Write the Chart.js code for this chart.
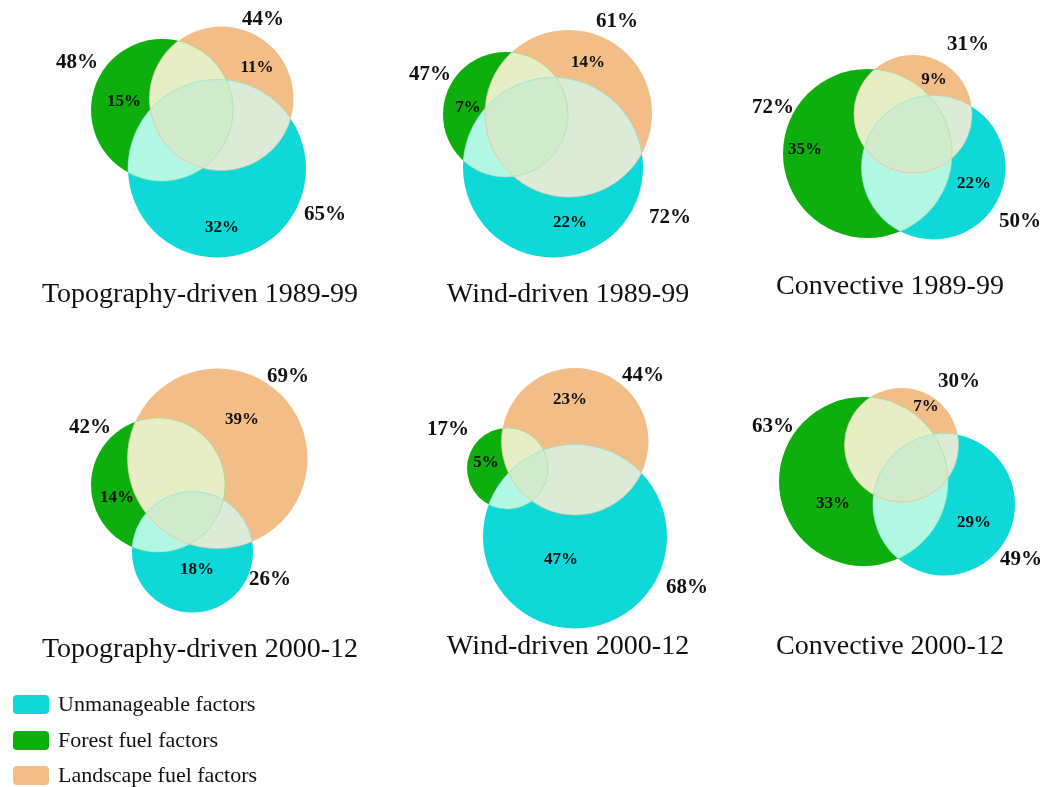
<!DOCTYPE html>
<html>
<head>
<meta charset="utf-8">
<script src="https://cdn.jsdelivr.net/npm/chart.js@4/dist/chart.umd.min.js"></script>
<style>
  html, body { margin: 0; padding: 0; background: #ffffff; }
  #wrap { position: relative; width: 1045px; height: 787px; overflow: hidden; }
  #c { position: absolute; left: 0; top: 0; }
  .title { position: absolute; transform: translate(-50%, -50%); white-space: nowrap;
           font-family: "Liberation Serif", "Times New Roman", serif; font-size: 28px; color: #111; }
  .leg { position: absolute; left: 13px; height: 19px; }
  .sw { position: absolute; left: 0; top: 0; width: 36px; height: 19px; border-radius: 4px; }
  .lt { position: absolute; left: 45px; top: 50%; transform: translateY(-50%); white-space: nowrap;
        font-family: "Liberation Serif", "Times New Roman", serif; font-size: 22px; color: #111; }
</style>
</head>
<body>
<div id="wrap">
  <canvas id="c" width="1045" height="787"></canvas>
</div>
<script>
// ---------------- data ----------------
const panelTitles = ["Topography-driven 1989-99", "Wind-driven 1989-99", "Convective 1989-99",
                     "Topography-driven 2000-12", "Wind-driven 2000-12", "Convective 2000-12"];
const seriesNames = ["Unmanageable factors", "Forest fuel factors", "Landscape fuel factors"];
const unmanageableTotal = [65, 72, 50, 26, 68, 49];
const forestTotal       = [48, 47, 72, 42, 17, 63];
const landscapeTotal    = [44, 61, 31, 69, 44, 30];
const unmanageableOnly  = [32, 22, 22, 18, 47, 29];
const forestOnly        = [15, 7, 35, 14, 5, 33];
const landscapeOnly     = [11, 14, 9, 39, 23, 7];

// ---------------- layout (positions / sizes, in scale units) ----------------
const unmanageableCircle = [[217,168.5,89],[553,167.5,90],[933.5,167.5,72],[192.5,552,60.5],[575,536.5,92],[944,504.5,71]];
const forestCircle       = [[162,110,71],[505.5,114.5,62.5],[867.5,153.5,84.5],[158,485,67],[507.5,468.5,40.5],[863.5,481.5,84.5]];
const landscapeCircle    = [[221.5,98.5,72],[568.5,113.5,83.5],[913,114,59],[217.5,458.5,90],[575,441.5,73.5],[901.5,445,57]];
const unmanageableTotalPos = [[325,215],[670,218],[1020,222],[270,580],[687,588],[1021,560]];
const forestTotalPos       = [[77,63],[430,75],[773,108],[90,428],[448,430],[773,427]];
const landscapeTotalPos    = [[263,20],[617,22],[968,45],[288,377],[643,376],[959,382]];
const unmanageableOnlyPos  = [[222,228],[570,223],[974,184],[197,570],[561,560],[974,523]];
const forestOnlyPos        = [[124,102],[468,108],[805,150],[117,498],[486,463],[833,504]];
const landscapeOnlyPos     = [[257,68],[588,63],[934,80],[242,420],[570,400],[926,407]];
const titlePos = [[200,293],[568,293],[890,285],[200,648],[568,645],[890,645]];
const legendRowY = [704, 740, 775];

// ---------------- styles ----------------
const seriesColors = ["#0fd8d8", "#0fae0f", "#f3bd88"];
const pairColors = { "0-1": "#b2f6e4", "0-2": "#dcebd8", "1-2": "#e7eec6" };
const tripleColor = "#cfebcb";
const edgeColors = ["rgba(150,235,215,0.6)", "rgba(175,230,170,0.6)", "rgba(235,200,165,0.7)"];

const FONT = '"Liberation Serif", "Times New Roman", serif';

function toPoints(circles) { return circles.map(c => ({ x: c[0], y: c[1], r: c[2] })); }

const overlapPlugin = {
  id: 'overlap',
  afterDatasetsDraw(chart) {
    const ctx = chart.ctx;
    const metas = [0, 1, 2].map(i => chart.getDatasetMeta(i));
    const circ = (el) => { ctx.beginPath(); ctx.arc(el.x, el.y, el.options.radius, 0, Math.PI * 2); };
    for (let p = 0; p < panelTitles.length; p++) {
      const els = metas.map(m => m.data[p]);
      [[0,1],[0,2],[1,2]].forEach(([a,b]) => {
        ctx.save();
        circ(els[a]); ctx.clip();
        circ(els[b]); ctx.fillStyle = pairColors[a + "-" + b]; ctx.fill();
        ctx.restore();
      });
      ctx.save();
      circ(els[0]); ctx.clip();
      circ(els[1]); ctx.clip();
      circ(els[2]); ctx.fillStyle = tripleColor; ctx.fill();
      ctx.restore();
      for (let k = 0; k < 3; k++) {
        for (let o = 0; o < 3; o++) {
          if (o === k) continue;
          ctx.save();
          circ(els[o]); ctx.clip();
          circ(els[k]); ctx.lineWidth = 1; ctx.strokeStyle = edgeColors[k]; ctx.stroke();
          ctx.restore();
        }
      }
    }
  },
  afterDraw(chart) {
    const ctx = chart.ctx;
    const xs = chart.scales.x, ys = chart.scales.y;
    ctx.save();
    ctx.fillStyle = "#111";
    ctx.textAlign = "center";
    ctx.textBaseline = "middle";
    const groups = [
      [unmanageableTotal, unmanageableTotalPos, 21], [forestTotal, forestTotalPos, 21], [landscapeTotal, landscapeTotalPos, 21],
      [unmanageableOnly, unmanageableOnlyPos, 17], [forestOnly, forestOnlyPos, 17], [landscapeOnly, landscapeOnlyPos, 17]
    ];
    groups.forEach(([vals, pos, size]) => {
      ctx.font = "bold " + size + "px " + FONT;
      vals.forEach((v, i) => {
        ctx.fillText(v + "%", xs.getPixelForValue(pos[i][0]), ys.getPixelForValue(pos[i][1]));
      });
    });
    ctx.restore();
  }
};

new Chart(document.getElementById('c'), {
  type: 'bubble',
  data: {
    datasets: [
      { label: seriesNames[0], data: toPoints(unmanageableCircle), backgroundColor: seriesColors[0], borderWidth: 0, clip: false },
      { label: seriesNames[1], data: toPoints(forestCircle),       backgroundColor: seriesColors[1], borderWidth: 0, clip: false },
      { label: seriesNames[2], data: toPoints(landscapeCircle),    backgroundColor: seriesColors[2], borderWidth: 0, clip: false }
    ]
  },
  options: {
    responsive: false,
    animation: false,
    devicePixelRatio: 1,
    events: [],
    layout: { padding: 0, autoPadding: false },
    plugins: { legend: { display: false }, tooltip: { enabled: false }, title: { display: false } },
    elements: { point: { hoverRadius: 0, hoverBorderWidth: 0 } },
    scales: {
      x: { type: 'linear', min: 0, max: 1045, display: false },
      y: { type: 'linear', min: 0, max: 787, reverse: true, display: false }
    }
  },
  plugins: [overlapPlugin]
});

const wrap = document.getElementById('wrap');
panelTitles.forEach((t, i) => {
  const d = document.createElement('div');
  d.className = 'title';
  d.textContent = t;
  d.style.left = titlePos[i][0] + 'px';
  d.style.top = titlePos[i][1] + 'px';
  wrap.appendChild(d);
});
seriesNames.forEach((n, i) => {
  const row = document.createElement('div');
  row.className = 'leg';
  row.style.top = (legendRowY[i] - 9.5) + 'px';
  const sw = document.createElement('div');
  sw.className = 'sw';
  sw.style.background = seriesColors[i];
  const lt = document.createElement('div');
  lt.className = 'lt';
  lt.textContent = n;
  row.appendChild(sw); row.appendChild(lt);
  wrap.appendChild(row);
});
</script>
</body>
</html>
